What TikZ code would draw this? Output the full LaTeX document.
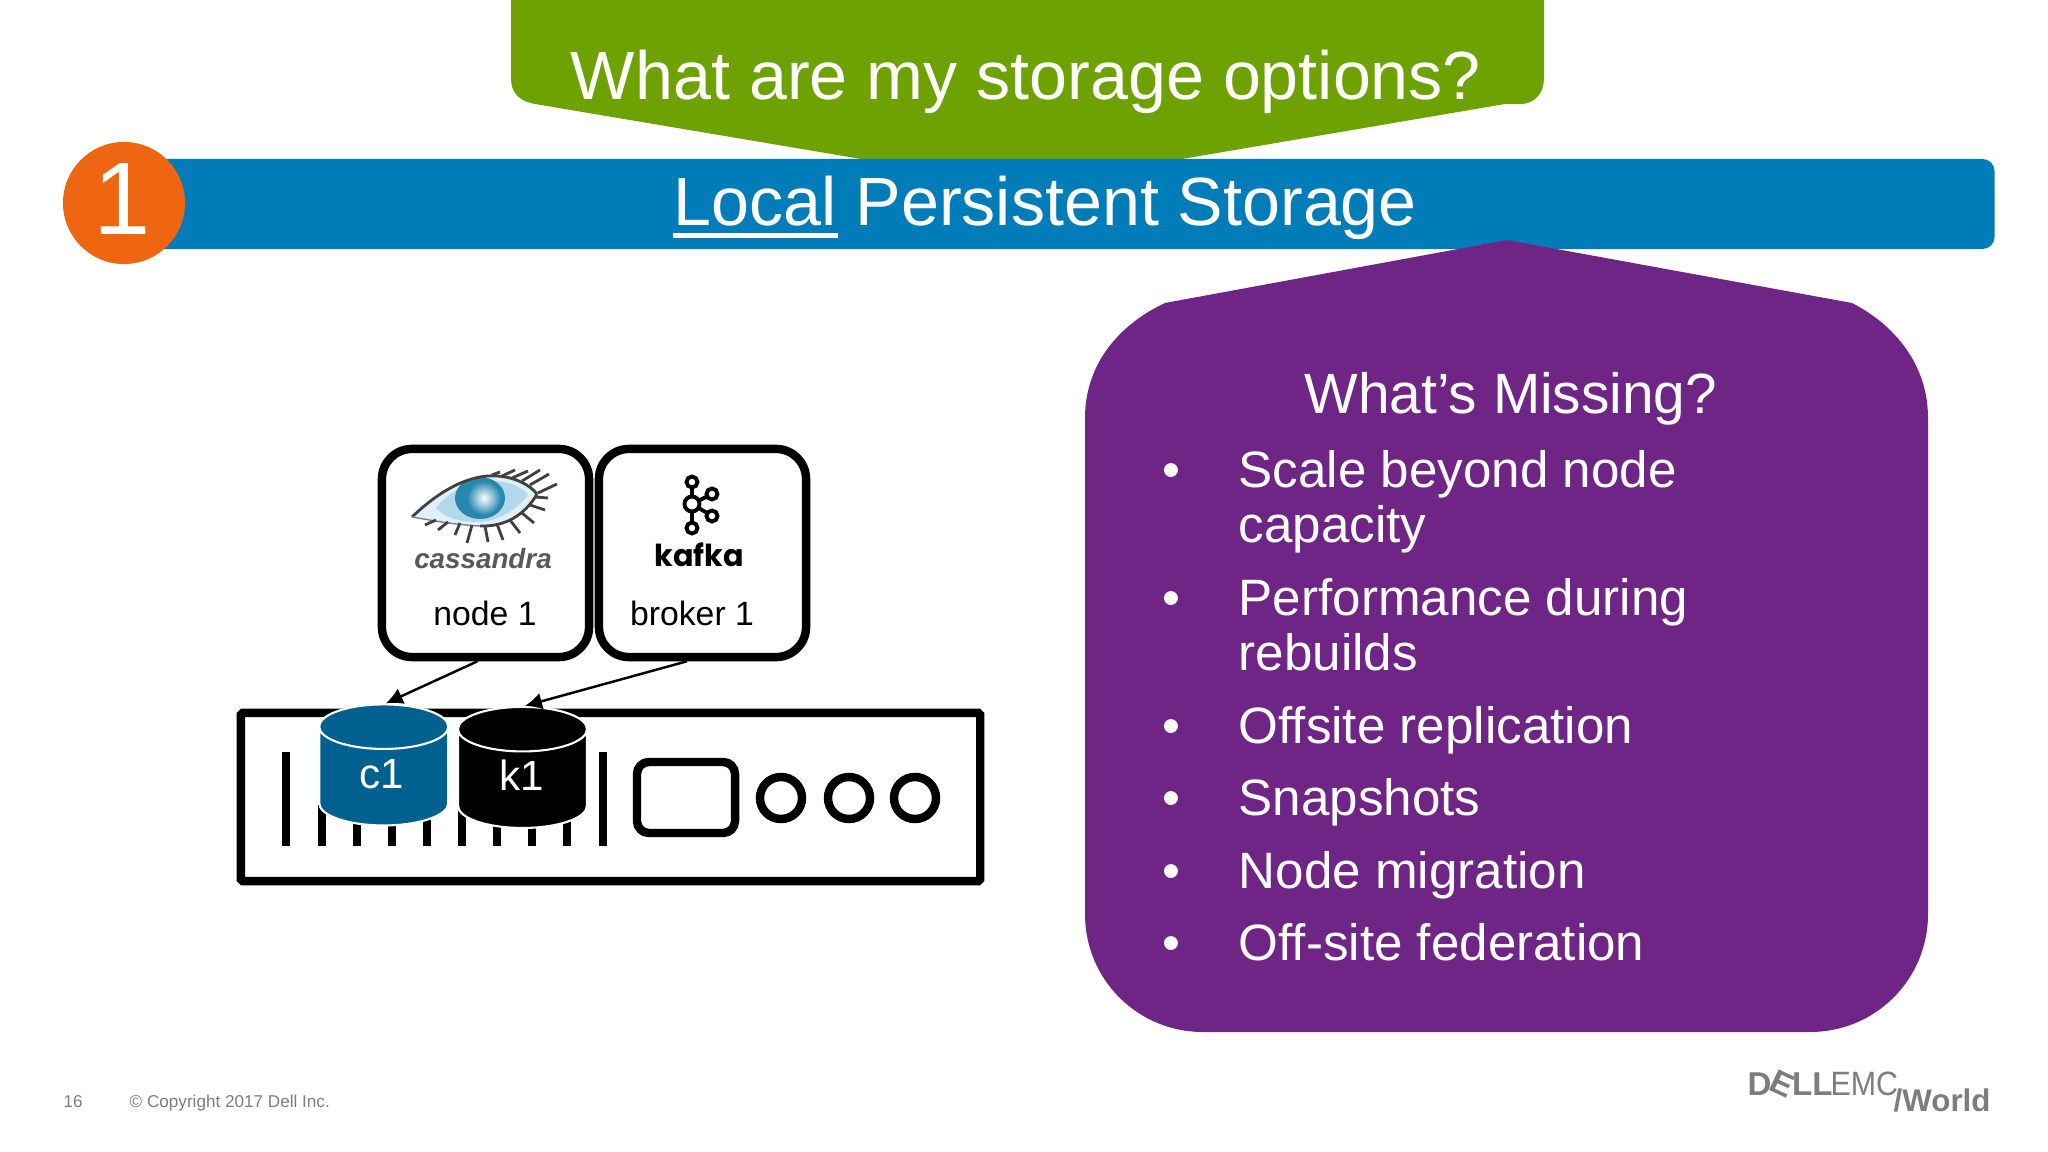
\documentclass[tikz,border=0pt]{standalone}
\usepackage{fontspec}
\setmainfont{Liberation Sans}
\newfontfamily\kafkafont{Poppins}
\usetikzlibrary{positioning,shapes.geometric,arrows.meta}
\definecolor{dellgreen}{RGB}{110, 162, 2}
\definecolor{dellblue}{RGB}{0, 125, 184}
\definecolor{dellorange}{RGB}{238, 102, 17}
\definecolor{dellpurple}{RGB}{110, 37, 133}
\definecolor{diskblue}{RGB}{0, 96, 143}
\definecolor{footgray}{RGB}{125, 125, 125}
\definecolor{eyeblue}{RGB}{178, 217, 235}
\definecolor{irisblue}{RGB}{38, 135, 175}
\tikzset{
    txt/.style={inner sep=0pt, anchor=base},
    headtxt/.style={txt, text=white, font=\fontsize{19.4}{22}\selectfont},
    listtxt/.style={txt, anchor=base west, text=white, font=\fontsize{14.55}{17}\selectfont},
    podbox/.style={draw=black, fill=white, line width=2.4pt, rounded corners=0.3cm,
        minimum width=2.07cm, minimum height=2.08cm},
    podtxt/.style={txt, font=\fontsize{9.6}{11}\selectfont},
    diskbox/.style={cylinder, shape border rotate=90, aspect=1.9, draw=white, line width=0.6pt,
        cylinder uses custom fill, minimum width=1.29cm, minimum height=1.21cm},
    disktxt/.style={txt, text=white, font=\fontsize{12}{14}\selectfont},
    ledring/.style={circle, draw=black, line width=2.4pt, minimum size=0.42cm},
    linkarrow/.style={-{Latex[length=0.17cm,width=0.17cm]}, line width=0.7pt},
    foottxt/.style={txt, anchor=base west, text=footgray, font=\fontsize{4.87}{5}\selectfont},
    logotxt/.style={txt, anchor=base west, text=footgray},
}
\begin{document}
\begin{tikzpicture}[x=0.01cm, y=-0.01cm]

\useasboundingbox (0,0) rectangle (2048,1152);

% ===== Green callout =====
\fill[dellgreen] (511,0) -- (511,78) .. controls (511,92) and (518,101) .. (535,104)
    -- (867,160) -- (1176,160) -- (1505,104) -- (1520,104)
    .. controls (1536,104) and (1544,92) .. (1544,78) -- (1544,0) -- cycle;
\node[headtxt] (question) at (1026,99.5) {What are my storage options?};

% ===== Blue bar =====
\node[fill=dellblue, rounded corners=0.12cm, minimum width=18.7cm, minimum height=0.9cm, inner sep=0pt]
    (bar) at (1059,204) {};
\node[headtxt, anchor=base west] (localword) at (673,226) {Local};
\node[headtxt, anchor=base west] (persist) at (855,226) {Persistent Storage};
\draw[white, line width=1.4pt] ([yshift=-0.095cm]localword.base west) -- ([yshift=-0.095cm]localword.base east);

\node[circle, fill=dellorange, minimum size=1.22cm, inner sep=0pt] (numdot) at (124,203) {};
\node[txt, text=white, font=\fontsize{29.3}{32}\selectfont] (numtxt) at (122,235) {1};

% ===== Purple panel =====
\fill[dellpurple] (1085,418) .. controls (1085,365) and (1118,325) .. (1165,303)
    -- (1507,240) -- (1852,303) .. controls (1895,325) and (1928,365) .. (1928,418)
    -- (1928,914) .. controls (1928,980) and (1875,1032) .. (1810,1032)
    -- (1203,1032) .. controls (1138,1032) and (1085,980) .. (1085,914) -- cycle;
\node[txt, text=white, font=\fontsize{16.15}{19}\selectfont] (missing) at (1511,414) {What’s Missing?};

\foreach \i/\ypos/\txt in {1/488/Scale beyond node, 2/543/capacity, 3/616/Performance during,
    4/670/rebuilds, 5/743/Offsite replication, 6/815/Snapshots, 7/888/Node migration, 8/960/Off-site federation} {
    \node[listtxt] (item\i) at (1238,\ypos) {\txt};
}
\foreach \i/\ypos in {1/488, 3/616, 5/743, 6/815, 7/888, 8/960} {
    \node[listtxt, anchor=base] (dot\i) at (1171,\ypos) {•};
}

% ===== Server =====
\node[draw=black, fill=white, line width=2.4pt, rounded corners=0.5pt, minimum width=7.39cm, minimum height=1.68cm]
    (server) at (610.5,797) {};
\foreach \xpos in {322,357,392,427,462,497,532,567} {
    \draw[line width=2.4pt] (\xpos,805) -- (\xpos,846);
}
\foreach \xpos in {286,603} {
    \draw[line width=2.4pt] (\xpos,752) -- (\xpos,846);
}
\node[draw=black, line width=2.4pt, rounded corners=0.12cm, minimum width=0.98cm, minimum height=0.71cm]
    (screen) at (686,797.5) {};
\foreach \i/\xpos in {1/781,2/849,3/915} {
    \node[ledring] (led\i) at (\xpos,798) {};
}

% ===== Disks =====
\node[diskbox, cylinder body fill=diskblue, cylinder end fill=diskblue] (c1) at (383.75,783) {};
\node[diskbox, cylinder body fill=black, cylinder end fill=black] (k1) at (522.5,785.5) {};
\node[disktxt] (c1txt) at (382,788) {c1};
\node[disktxt] (k1txt) at (522,790) {k1};

% ===== Pods =====
\node[podbox] (node1) at (485.5,553) {};
\node[podbox] (broker1) at (702.5,553) {};
\node[podtxt] (node1txt) at (485,625) {node 1};
\node[podtxt] (broker1txt) at (692,625) {broker 1};

\draw[linkarrow] ([xshift=-0.08cm]node1.south) -- ([xshift=0.02cm]c1.north);
\draw[linkarrow] ([xshift=-0.155cm]broker1.south) -- ([xshift=0.025cm]k1.north);

% cassandra eye
\fill[eyeblue!40!white] (412,517) .. controls (440,490) and (470,474) .. (497,476)
    .. controls (515,477) and (530,485) .. (537,494)
    .. controls (525,515) and (505,527) .. (480,526) .. controls (455,525) and (430,520) .. (412,517) -- cycle;
\fill[eyeblue] (436,508) .. controls (450,490) and (470,481) .. (495,481)
    .. controls (510,482) and (522,487) .. (528,495)
    .. controls (515,512) and (495,522) .. (478,522) .. controls (460,522) and (445,518) .. (436,508) -- cycle;
\fill[irisblue] (480,498) ellipse [x radius=25, y radius=21];
\shade[inner color=white, outer color=irisblue] (484,498) circle [radius=17];
\draw[black!75, line width=0.8pt] (412,517) .. controls (440,490) and (470,474) .. (497,476)
    .. controls (515,477) and (530,485) .. (537,494);
\draw[black!75, line width=0.8pt] (537,494) .. controls (525,515) and (505,527) .. (480,526);
\draw[black!50, line width=0.4pt] (480,526) .. controls (455,525) and (430,520) .. (412,517);
\foreach \a/\b/\c/\d in {538/493/557/484, 530/485/549/474, 522/481/540/470, 512/478/528/471, 502/476/515/470, 492/475/500/472,
    535/497/548/498, 530/505/545/510, 522/513/534/523, 510/520/520/533, 497/524/503/540, 485/526/488/542,
    472/525/467/543, 460/523/455/535, 448/522/438/530, 436/520/425/525} {
    \draw[black!75, line width=0.8pt] (\a,\b) -- (\c,\d);
}
\node[txt, text=black!65, font=\fontsize{7.9}{9}\selectfont\bfseries\itshape] (cassandra) at (483,568) {cassandra};

% kafka logo
\draw[line width=1.1pt] (692,482) -- (692,528) (692,504) -- (712,494) (692,504) -- (712,516);
\foreach \i/\xpos/\ypos/\rad in {1/692/482/5.5, 2/692/504/7.5, 3/692/528/5.5, 4/712/494/5.5, 5/712/516/5.5} {
    \draw[line width=1.1pt, fill=white] (\xpos,\ypos) circle [radius=\rad];
}
\node[txt, font=\fontsize{8.6}{10}\selectfont\kafkafont\bfseries] (kafka) at (699,567) {kafka};

% ===== Footer =====
\node[foottxt] (pagenum) at (63,1107) {16};
\node[foottxt] (copyright) at (129,1107) {© Copyright 2017 Dell Inc.};

\node[logotxt, font=\fontsize{9.4}{11}\selectfont\bfseries] (delltxt) at (1747,1095) {D\makebox[0.62em]{\rotatebox[origin=c]{-25}{E}}LL};
\node[logotxt, xscale=0.9, font=\fontsize{9.6}{11}\selectfont, anchor=base west] (emctxt) at (1830,1095) {EMC};
\node[logotxt, font=\fontsize{8.9}{11}\selectfont\bfseries] (worldtxt) at (1893,1111) {/World};

\end{tikzpicture}
\end{document}
